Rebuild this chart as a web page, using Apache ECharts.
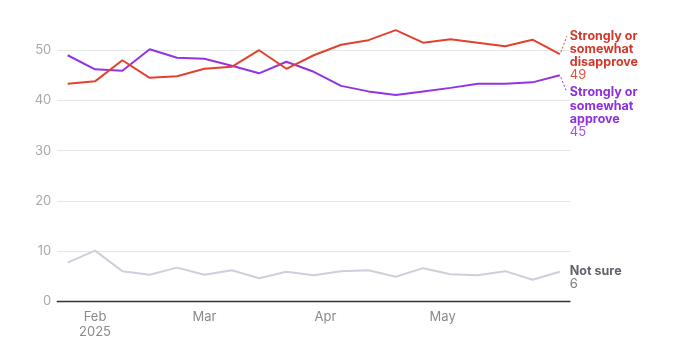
<!DOCTYPE html>
<html>
<head>
<meta charset="utf-8">
<script src="https://cdn.jsdelivr.net/npm/echarts@6/dist/echarts.min.js"></script>
<style>
html,body{margin:0;padding:0;background:#fff;}
#chart{width:691px;height:349px;}
</style>
</head>
<body>
<div id="chart"></div>
<script>
// ---- data ----
const weeks = ['2025-01-25','2025-02-01','2025-02-08','2025-02-15','2025-02-22','2025-03-01','2025-03-08','2025-03-15','2025-03-22','2025-03-29','2025-04-05','2025-04-12','2025-04-19','2025-04-26','2025-05-03','2025-05-10','2025-05-17','2025-05-24','2025-05-31'];
const disapprove = [43.3, 43.8, 48.0, 44.5, 44.8, 46.3, 46.7, 50.0, 46.3, 49.0, 51.1, 52.0, 54.0, 51.5, 52.2, 51.5, 50.8, 52.1, 49.2];
const approve = [49.0, 46.2, 45.9, 50.2, 48.5, 48.3, 46.9, 45.4, 47.7, 45.7, 42.9, 41.8, 41.1, 41.8, 42.5, 43.3, 43.3, 43.6, 45.0];
const notSure = [7.7, 10.1, 6.0, 5.3, 6.7, 5.3, 6.2, 4.6, 5.9, 5.2, 6.0, 6.2, 4.9, 6.6, 5.4, 5.2, 6.0, 4.3, 5.9];
const monthTicks = ['2025-02-01','2025-03-01','2025-04-01','2025-05-01'];
const monthLabels = ['Feb\n2025','Mar','Apr','May'];
const yTicks = [0, 10, 20, 30, 40, 50];

const DAY = 86400000;
const t = s => new Date(s + 'T00:00:00Z').getTime();
const xs = weeks.map(t);
const tickTs = monthTicks.map(t);
const pair = arr => arr.map((v, i) => [xs[i], v]);

const FONT = 'Inter, "Noto Sans", sans-serif';
const RED = '#e3412f', PURPLE = '#9234e6', GREY = '#cdd0dc';

const chart = echarts.init(document.getElementById('chart'), null, {renderer: 'canvas'});

function endLabel(nameColor, valColor, lines, offset) {
  return {
    show: true,
    distance: 10,
    offset: offset,
    align: 'left',
    formatter: p => lines.map(l => '{n|' + l + '}').join('\n') + '\n{v|' + Math.round(p.value[1]) + '}',
    rich: {
      n: {fontFamily: FONT, fontWeight: 'bold', fontSize: 12.5, lineHeight: 13.3, color: nameColor},
      v: {fontFamily: FONT, fontWeight: 'normal', fontSize: 13, lineHeight: 12, color: valColor}
    }
  };
}

// split line colours per tick (0..60); the 60 line sits just above the canvas and stays hidden
const splitColors = [0, 10, 20, 30, 40, 50, 60].map(v => yTicks.indexOf(v) >= 0 ? '#e6e6e6' : 'rgba(0,0,0,0)');

const option = {
  animation: false,
  backgroundColor: '#fff',
  grid: {left: 57.3, right: 121, top: -3, bottom: 47.7, containLabel: false},
  xAxis: {
    type: 'value',
    min: xs[0] - 2.65 * DAY,
    max: xs[xs.length - 1] + 2.6 * DAY,
    axisLine: {show: true, lineStyle: {color: '#333', width: 1.3}},
    axisTick: {show: false},
    splitLine: {show: false},
    axisLabel: {
      customValues: tickTs,
      formatter: v => {
        const i = tickTs.indexOf(v);
        return i >= 0 ? monthLabels[i] : '';
      },
      color: '#8a8a8a', fontFamily: FONT, fontSize: 13, lineHeight: 15, margin: 8,
      showMinLabel: true, showMaxLabel: true
    }
  },
  yAxis: {
    type: 'value',
    min: 0, max: 60, interval: 10,
    axisLine: {show: false},
    axisTick: {show: false},
    splitLine: {show: true, lineStyle: {color: splitColors, width: 1}},
    axisLabel: {
      formatter: v => yTicks.indexOf(v) >= 0 ? String(v) : '',
      color: '#a9a9a9', fontFamily: FONT, fontSize: 13, margin: 6
    }
  },
  series: [
    {
      name: 'Not sure', type: 'line', data: pair(notSure), symbol: 'none',
      lineStyle: {color: GREY, width: 2}, itemStyle: {color: GREY},
      endLabel: endLabel('#62636b', '#7a7b82', ['Not sure'], [0, 6]),
      z: 2
    },
    {
      name: 'Strongly or somewhat approve', type: 'line', data: pair(approve), symbol: 'none',
      lineStyle: {color: PURPLE, width: 2}, itemStyle: {color: PURPLE},
      endLabel: endLabel('#8b2fe0', '#9d55ea', ['Strongly or', 'somewhat', 'approve'], [0, 36.5]),
      z: 3
    },
    {
      name: 'Strongly or somewhat disapprove', type: 'line', data: pair(disapprove), symbol: 'none',
      lineStyle: {color: RED, width: 2}, itemStyle: {color: RED},
      endLabel: endLabel('#d2382a', '#e0543f', ['Strongly or', 'somewhat', 'disapprove'], [0, 1]),
      z: 4
    }
  ]
};
chart.setOption(option);

// dashed leader lines from the last point towards the first label line
const last = xs.length - 1;
const pRed = chart.convertToPixel({gridIndex: 0}, [xs[last], disapprove[last]]);
const pPur = chart.convertToPixel({gridIndex: 0}, [xs[last], approve[last]]);
chart.setOption({
  graphic: [
    {type: 'line', shape: {x1: pRed[0] + 1, y1: pRed[1] - 2, x2: pRed[0] + 7, y2: pRed[1] - 18},
     style: {stroke: RED, lineWidth: 1, lineDash: [2, 2]}},
    {type: 'line', shape: {x1: pPur[0] + 1, y1: pPur[1] + 2, x2: pPur[0] + 7, y2: pPur[1] + 17},
     style: {stroke: PURPLE, lineWidth: 1, lineDash: [2, 2]}}
  ]
});
</script>
</body>
</html>
